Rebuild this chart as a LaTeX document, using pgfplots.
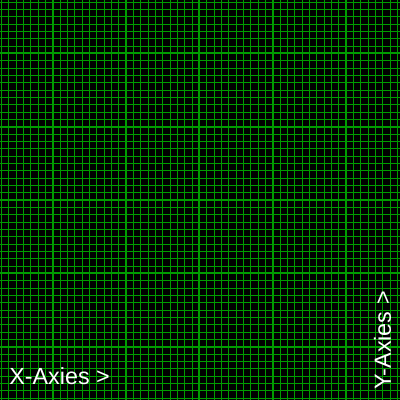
\documentclass[border=0pt]{standalone}
\usepackage{pgfplots}
\pgfplotsset{compat=1.18}
\usepackage{fontspec}
\setmainfont{Liberation Sans}
\definecolor{gridgreen}{RGB}{0,155,0}
\begin{document}
\begin{tikzpicture}
\begin{axis}[
  name=ax,
  width=10cm, height=10cm, scale only axis,
  xmin=-7.1818, xmax=47.3636,
  ymin=-7.2727, ymax=47.2727,
  xtick={0,10,20,30,40}, ytick={0,10,20,30,40},
  minor xtick={-7,-6,...,47},
  minor ytick={-7,-6,...,47},
  xticklabels={}, yticklabels={},
  grid=both,
  major grid style={draw=gridgreen, line width=1.4pt},
  minor grid style={draw=gridgreen, line width=0.7pt},
  tick style={draw=none},
  axis line style={draw=none},
  axis background/.style={fill=black},
]
\addplot[draw=none, forget plot] coordinates {(0,0) (10,10)};
\node[anchor=base west, inner sep=0pt, text=white, font=\fontsize{16.6}{19}\selectfont]
  at (rel axis cs:0.0225,0.0375) {X-Axies >};
\node[anchor=base west, inner sep=0pt, rotate=90, text=white, font=\fontsize{16.6}{19}\selectfont]
  at (rel axis cs:0.9775,0.025) {Y-Axies >};
\end{axis}
\pgfresetboundingbox
\useasboundingbox (ax.south west) rectangle (ax.north east);
\end{tikzpicture}
\end{document}
